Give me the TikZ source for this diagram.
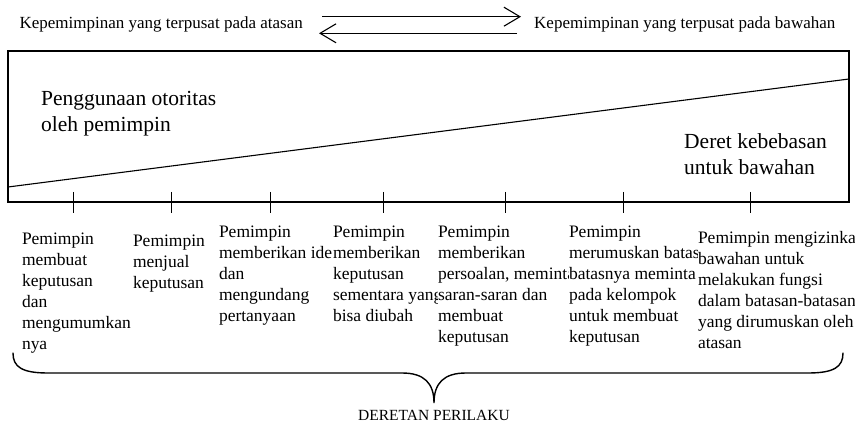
\documentclass[tikz,border=0pt]{standalone}
\usepackage{fontspec}
\setmainfont{Liberation Serif}
\usetikzlibrary{arrows.meta}
\begin{document}
\begin{tikzpicture}[x=1pt,y=-1pt,
  frame/.style={line width=1.1pt},
  barb/.style={line width=1.1pt,-{Straight Barb[length=16pt,width=19pt,line width=1.1pt]}},
  tickline/.style={line width=1pt},
  bracepath/.style={line width=1.4pt,line cap=round},
  item/.style={anchor=north west,inner sep=0pt,outer sep=0pt,fill=white,align=left,font=\fontsize{17.5}{21}\selectfont},
  big/.style={anchor=north west,inner sep=0pt,align=left,font=\fontsize{21.5}{26}\selectfont},
  toptext/.style={anchor=base,inner sep=0pt,font=\fontsize{17}{20}\selectfont}
]
\useasboundingbox (0,0) rectangle (855,422);
\clip (0,0) rectangle (855,422);

% top labels and arrows
\node[toptext,anchor=base east] (left) at (303,29) {Kepemimpinan yang terpusat pada atasan};
\node[toptext,anchor=base west] (right) at (534,29) {Kepemimpinan yang terpusat pada bawahan};
\coordinate (a1) at (322,16.7);
\coordinate (a2) at (521,16.7);
\coordinate (b1) at (517,33.3);
\coordinate (b2) at (319,33.3);
\draw[barb] (a1) -- (a2);
\draw[barb] (b1) -- (b2);

% box and diagonal
\draw[frame] (8,51) rectangle (849,202);
\coordinate (d1) at (8,187);
\coordinate (d2) at (849,79);
\draw[frame] (d1) -- (d2);

\node[big] (auth) at (41,91.5) {Penggunaan otoritas\\oleh pemimpin};
\node[big] (free) at (684,133.3) {Deret kebebasan\\untuk bawahan};

% ticks
\foreach \x in {73,171,270,383,505,623,750}
  \draw[tickline] (\x,192) -- (\x,213);

% behaviour columns
\node[item] (c1) at (22,232.5) {Pemimpin\\membuat\\keputusan\\dan\\mengumumkan\\nya};
\node[item] (c2) at (133,234.5) {Pemimpin\\menjual\\keputusan};
\node[item] (c3) at (219,225.5) {Pemimpin\\memberikan ide\\dan\\mengundang\\pertanyaan};
\node[item] (c4) at (333,225.5) {Pemimpin\\memberikan\\keputusan\\sementara yang\\bisa diubah};
\node[item] (c5) at (438,225.5) {Pemimpin\\memberikan\\persoalan, meminta\\saran-saran dan\\membuat\\keputusan};
\node[item] (c6) at (569,225.5) {Pemimpin\\merumuskan batas-\\batasnya meminta\\pada kelompok\\untuk membuat\\keputusan};
\node[item] (c7) at (698,231.5) {Pemimpin mengizinkan\\bawahan untuk\\melakukan fungsi\\dalam batasan-batasan\\yang dirumuskan oleh\\atasan};

% brace
\coordinate (bl) at (13,353);
\coordinate (tip) at (434,403);
\coordinate (br) at (843,353);
\draw[bracepath] (bl) .. controls (13,367) and (22,373) .. (48,373)
  -- (402,373) .. controls (424,373) and (434,383) .. (tip)
  .. controls (434,383) and (444,373) .. (466,373)
  -- (808,373) .. controls (834,373) and (843,367) .. (br);
\node[anchor=base,inner sep=0pt,font=\fontsize{15.5}{18}\selectfont] (lbl) at (434,420) {DERETAN PERILAKU};
\end{tikzpicture}
\end{document}
